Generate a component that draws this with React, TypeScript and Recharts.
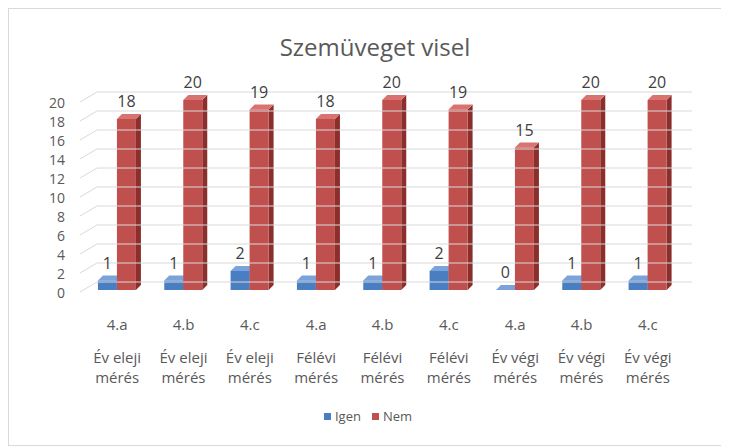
import React from 'react';
import { BarChart, Bar, XAxis, YAxis, Legend, LabelList } from 'recharts';

const categories = ['4.a', '4.b', '4.c', '4.a', '4.b', '4.c', '4.a', '4.b', '4.c'];
const periodLine1 = ['Év eleji', 'Év eleji', 'Év eleji', 'Félévi', 'Félévi', 'Félévi', 'Év végi', 'Év végi', 'Év végi'];
const periodLine2 = ['mérés', 'mérés', 'mérés', 'mérés', 'mérés', 'mérés', 'mérés', 'mérés', 'mérés'];
const igenValues = [1, 1, 2, 1, 1, 2, 0, 1, 1];
const nemValues = [18, 20, 19, 18, 20, 19, 15, 20, 20];
const yTicks = [0, 2, 4, 6, 8, 10, 12, 14, 16, 18, 20];
const seriesNames = ['Igen', 'Nem'];
const title = 'Szemüveget visel';

const data = categories.map((c, i) => ({
  cat: c,
  idx: i,
  igen: igenValues[i],
  nem: nemValues[i],
}));

const FONT = '"Open Sans", "DejaVu Sans", sans-serif';
const TEXT = '#595959';
const W = 718;
const H = 436;
const PLOT_LEFT = 75;
const PLOT_RIGHT_MARGIN = 46;
const DEPTH_X = 5;
const DEPTH_Y = 5;
const GRID_DX = 14;
const GRID_DY = 8;

const BLUE = { front: '#4a7ec3', top: '#7aa3dc', side: '#2e5b96' };
const RED = { front: '#c0504d', top: '#d87370', side: '#8a2f2c' };

const make3D = (c: { front: string; top: string; side: string }) => (props: any) => {
  const { x, y, width, height } = props;
  if (x == null || y == null) return null;
  const w = width;
  const h = Math.max(0, height);
  const top = `${x},${y} ${x + DEPTH_X},${y - DEPTH_Y} ${x + w + DEPTH_X},${y - DEPTH_Y} ${x + w},${y}`;
  const side = `${x + w},${y} ${x + w + DEPTH_X},${y - DEPTH_Y} ${x + w + DEPTH_X},${y + h - DEPTH_Y} ${x + w},${y + h}`;
  return (
    <g>
      <polygon points={side} fill={c.side} />
      <rect x={x} y={y} width={w} height={h} fill={c.front} />
      <polygon points={top} fill={c.top} />
    </g>
  );
};

const YTick = (props: any) => {
  const { y, payload } = props;
  const x0 = PLOT_LEFT - 4;
  const gy = y - GRID_DY;
  return (
    <g>
      <line x1={x0} y1={y + 2} x2={x0 + GRID_DX + 3} y2={gy} stroke="#d9d9d9" strokeWidth={1} />
      <line x1={x0 + GRID_DX + 3} y1={gy} x2={W - PLOT_RIGHT_MARGIN + 11} y2={gy} stroke="#d9d9d9" strokeWidth={1} />
      <text x={56} y={y + 4} textAnchor="end" dominantBaseline="middle" fill={TEXT} fontSize={14} fontFamily={FONT}>
        {payload.value}
      </text>
    </g>
  );
};

const XTick = (props: any) => {
  const { x, y, payload, index } = props;
  const i = typeof index === 'number' ? index : payload.index;
  return (
    <g>
      <text x={x} y={y + 40} textAnchor="middle" fill={TEXT} fontSize={15} fontFamily={FONT}>
        {payload.value}
      </text>
      <text x={x} y={y + 73} textAnchor="middle" fill={TEXT} fontSize={15} fontFamily={FONT}>
        {periodLine1[i]}
      </text>
      <text x={x} y={y + 93} textAnchor="middle" fill={TEXT} fontSize={15} fontFamily={FONT}>
        {periodLine2[i]}
      </text>
    </g>
  );
};

const LegendContent = () => (
  <div style={{ display: 'flex', justifyContent: 'center', alignItems: 'center', height: 20, fontFamily: FONT, fontSize: 13, color: TEXT }}>
    <span style={{ display: 'inline-block', width: 7, height: 7, background: BLUE.front, marginRight: 4 }} />
    <span style={{ marginRight: 11 }}>{seriesNames[0]}</span>
    <span style={{ display: 'inline-block', width: 7, height: 7, background: RED.front, marginRight: 4 }} />
    <span>{seriesNames[1]}</span>
  </div>
);

export default function App() {
  return (
    <div style={{ position: 'relative', width: W, height: H, border: '1px solid #d9d9d9', background: '#fff' }}>
      <div
        style={{
          position: 'absolute',
          top: 22,
          left: 0,
          width: W,
          textAlign: 'center',
          fontFamily: FONT,
          fontSize: 24,
          lineHeight: '32px',
          color: TEXT,
          paddingLeft: 14,
          boxSizing: 'border-box',
        }}
      >
        {title}
      </div>
      <BarChart
        width={W}
        height={H}
        data={data}
        margin={{ top: 91, right: PLOT_RIGHT_MARGIN, bottom: 19, left: 0 }}
        barCategoryGap="21%"
        barGap={0}
      >
        <XAxis dataKey="cat" axisLine={false} tickLine={false} interval={0} height={116} tick={<XTick />} tickSize={0} tickMargin={0} />
        <YAxis
          domain={[0, 20]}
          ticks={yTicks}
          interval={0}
          axisLine={false}
          tickLine={false}
          width={PLOT_LEFT}
          tick={<YTick />}
        />
        <Legend verticalAlign="bottom" content={<LegendContent />} wrapperStyle={{ width: W, left: 0 }} />
        <Bar dataKey="igen" name={seriesNames[0]} fill={BLUE.front} shape={make3D(BLUE)} isAnimationActive={false}>
          <LabelList dataKey="igen" position="top" offset={12} fill="#404040" fontSize={16} fontFamily={FONT} />
        </Bar>
        <Bar dataKey="nem" name={seriesNames[1]} fill={RED.front} shape={make3D(RED)} isAnimationActive={false}>
          <LabelList dataKey="nem" position="top" offset={12} fill="#404040" fontSize={16} fontFamily={FONT} />
        </Bar>
      </BarChart>
    </div>
  );
}
